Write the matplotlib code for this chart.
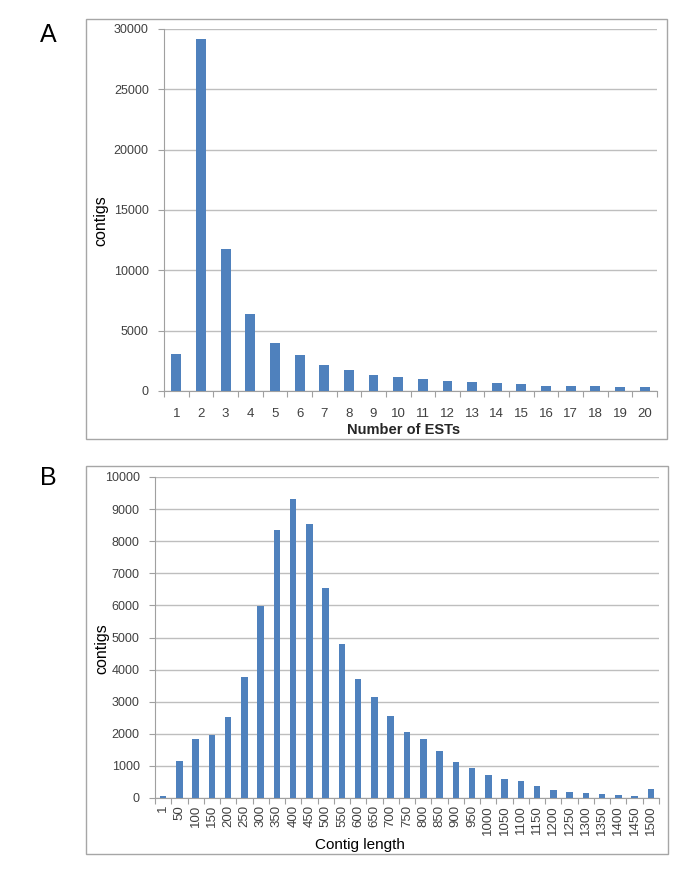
import numpy as np
import matplotlib
matplotlib.use("Agg")
import matplotlib.pyplot as plt
from matplotlib.patches import Rectangle

# panel A: contigs by number of ESTs
ests = [str(i) for i in range(1, 21)]
ests_counts = [3050, 29200, 11750, 6350, 4000, 2950, 2150, 1750, 1350, 1200,
               1000, 850, 750, 650, 550, 450, 400, 400, 350, 300]

# panel B: contigs by length
lengths = ["1", "50", "100", "150", "200", "250", "300", "350", "400", "450",
           "500", "550", "600", "650", "700", "750", "800", "850", "900", "950",
           "1000", "1050", "1100", "1150", "1200", "1250", "1300", "1350",
           "1400", "1450", "1500"]
length_counts = [50, 1150, 1850, 1970, 2530, 3780, 5980, 8360, 9320, 8550,
                 6530, 4800, 3720, 3150, 2570, 2060, 1830, 1470, 1130, 950,
                 720, 580, 520, 370, 250, 200, 150, 120, 80, 60, 270]

BAR = "#4F81BD"
GRID = "#BEBEBE"
TXT = "#404040"
W, H = 685, 873

plt.rcParams["font.family"] = ["Liberation Sans", "DejaVu Sans"]

fig = plt.figure(figsize=(6.85, 8.73), dpi=100)


def px(x0, y0, x1, y1):
    return [x0 / W, 1 - y1 / H, (x1 - x0) / W, (y1 - y0) / H]


def frame(x0, y0, x1, y1):
    fig.patches.append(Rectangle((x0 / W, 1 - y1 / H), (x1 - x0) / W, (y1 - y0) / H,
                                 transform=fig.transFigure, fill=False,
                                 edgecolor="#A6A6A6", lw=1.0))


def excel_bars(ax, labels, vals, ymax, ystep, rot, xpad):
    n = len(labels)
    x = np.arange(n)
    ax.bar(x, vals, width=0.4, color=BAR, zorder=3)
    ax.set_xlim(-0.5, n - 0.5)
    ax.set_ylim(0, ymax)
    ax.set_yticks(np.arange(0, ymax + 1, ystep))
    ax.yaxis.grid(True, color=GRID, lw=1.0, zorder=0)
    for s in ["top", "right"]:
        ax.spines[s].set_visible(False)
    for s in ["left", "bottom"]:
        ax.spines[s].set_color("#A0A0A0")
    # tick marks between categories, labels at centers
    ax.set_xticks(np.arange(n + 1) - 0.5)
    ax.set_xticklabels([])
    ax.set_xticks(x, minor=True)
    ax.set_xticklabels(labels, minor=True, rotation=rot)
    ax.tick_params(axis="x", which="major", length=4, color="#A0A0A0")
    ax.tick_params(axis="x", which="minor", length=0, labelsize=9.5,
                   labelcolor=TXT, pad=xpad)
    ax.tick_params(axis="y", length=4, color="#A0A0A0", labelsize=9,
                   labelcolor=TXT, pad=7)


# panel A
frame(86, 19, 667, 439)
axA = fig.add_axes(px(164, 29, 657, 391))
excel_bars(axA, ests, ests_counts, 30000, 5000, 0, 12)
axA.set_xlabel("Number of ESTs", fontsize=10.5, fontweight="bold",
               color="#262626", va="center")
axA.xaxis.set_label_coords(0.485, -0.108)
axA.set_ylabel("contigs", fontsize=11.5, va="center")
axA.yaxis.set_label_coords(-0.128, 0.472)
fig.text(48 / W, 1 - 35 / H, "A", fontsize=18, ha="center", va="center")

# panel B
frame(86, 466, 668, 854)
axB = fig.add_axes(px(155, 477, 659, 798))
excel_bars(axB, lengths, length_counts, 10000, 1000, 90, 5)
axB.set_xlabel("Contig length", fontsize=11, va="center")
axB.xaxis.set_label_coords(0.407, -0.146)
axB.set_ylabel("contigs", fontsize=11.5, va="center")
axB.yaxis.set_label_coords(-0.105, 0.464)
fig.text(48 / W, 1 - 478 / H, "B", fontsize=18, ha="center", va="center")

fig.savefig("out.png", dpi=100)
